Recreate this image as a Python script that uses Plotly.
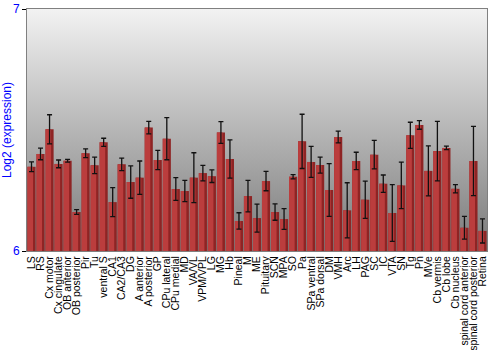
import base64
import plotly.graph_objects as go

categories = ["LS", "RS", "Cx motor", "Cx cingulate", "OB anterior", "OB posterior", "Pir", "Tu",
              "ventral S", "CA1", "CA2/CA3", "DG", "A anterior", "A posterior", "GP", "CPu lateral",
              "CPu medial", "MD", "VA/VL", "VPM/VPL", "LG", "MG", "Hb", "Pineal", "M", "ME",
              "Pituitary", "SCN", "MPA", "SO", "Pa", "SPa ventral", "SPa dorsal", "DM", "VMH", "Arc",
              "LH", "PAG", "SC", "IC", "VTA", "SN", "Tg", "Pn", "MVe", "Cb vermis", "Cb lobe",
              "Cb nucleus", "spinal cord anterior", "spinal cord posterior", "Retina"]

values = [6.348, 6.401, 6.503, 6.360, 6.373, 6.161, 6.404, 6.354,
          6.449, 6.202, 6.358, 6.285, 6.303, 6.510, 6.376, 6.464,
          6.256, 6.248, 6.303, 6.322, 6.309, 6.490, 6.380, 6.124, 6.227, 6.136,
          6.289, 6.161, 6.132, 6.307, 6.453, 6.368, 6.355, 6.252, 6.471, 6.168,
          6.372, 6.212, 6.398, 6.278, 6.157, 6.271, 6.478, 6.521, 6.331, 6.413, 6.426,
          6.257, 6.096, 6.372, 6.083]

errors = [0.020, 0.024, 0.060, 0.016, 0.006, 0.010, 0.018, 0.034,
          0.017, 0.060, 0.026, 0.067, 0.069, 0.026, 0.040, 0.087,
          0.047, 0.044, 0.103, 0.032, 0.026, 0.045, 0.079, 0.034, 0.065, 0.058,
          0.040, 0.034, 0.043, 0.009, 0.112, 0.064, 0.033, 0.109, 0.024, 0.114,
          0.036, 0.077, 0.059, 0.036, 0.117, 0.096, 0.054, 0.018, 0.103, 0.123, 0.007,
          0.017, 0.047, 0.143, 0.050]

y_range = [6, 7]
y_ticks = [6, 7]

svg = ('<svg xmlns="http://www.w3.org/2000/svg" width="100" height="100" viewBox="0 0 100 100" '
       'preserveAspectRatio="none"><defs><linearGradient id="g" x1="0" y1="0" x2="0" y2="1">'
       '<stop offset="0" stop-color="#f2f2f2"/><stop offset="1" stop-color="#7a7a7a"/>'
       '</linearGradient></defs><rect width="100" height="100" fill="url(#g)"/></svg>')
bg_src = "data:image/svg+xml;base64," + base64.b64encode(svg.encode()).decode()

heights = [v - y_range[0] for v in values]

fig = go.Figure()
# dark full-width bar
fig.add_trace(go.Bar(
    x=categories, y=heights, base=y_range[0], width=0.9,
    marker=dict(color="#8e2424", line=dict(width=0)),
    showlegend=False, hoverinfo="skip",
))
# lighter left/middle highlight
fig.add_trace(go.Bar(
    x=categories, y=heights, base=y_range[0], width=0.62, offset=-0.45,
    marker=dict(color="#bb3d3d", line=dict(width=0)),
    showlegend=False,
))
# error bars
fig.add_trace(go.Scatter(
    x=categories, y=values, mode="markers", marker=dict(size=1, opacity=0),
    error_y=dict(type="data", array=errors, color="#111111", thickness=1.3, width=2.5),
    showlegend=False, hoverinfo="skip",
))

fig.update_layout(
    width=500, height=350,
    margin=dict(l=27, r=13, t=9, b=99),
    paper_bgcolor="white", plot_bgcolor="rgba(0,0,0,0)",
    barmode="overlay",
    font=dict(family="Liberation Sans, Arial, sans-serif", size=10, color="black"),
    images=[dict(source=bg_src, xref="paper", yref="paper", x=0, y=1, sizex=1, sizey=1,
                 sizing="stretch", layer="below", xanchor="left", yanchor="top")],
    xaxis=dict(tickangle=-90, tickmode="linear", dtick=1, showgrid=False, showline=True,
               linecolor="#808080", mirror=True, ticks="", tickfont=dict(size=10.5, color="black"),
               automargin=False, range=[-0.5, len(categories) - 0.5]),
    yaxis=dict(range=y_range, tickvals=y_ticks, showgrid=False, zeroline=False,
               showline=True, linecolor="#808080", mirror=True, ticks="outside", ticklen=4,
               tickcolor="black", tickfont=dict(size=12, color="#0000ff"),
               title=dict(text="Log2 (expression)", font=dict(size=12, color="#0000ff"), standoff=0),
               automargin=False),
    yaxis2=dict(range=y_range, tickvals=y_ticks, overlaying="y", side="right", showgrid=False,
                zeroline=False, ticks="", tickfont=dict(size=12, color="#0000ff"), anchor="x"),
)

fig.write_html("out.html")
